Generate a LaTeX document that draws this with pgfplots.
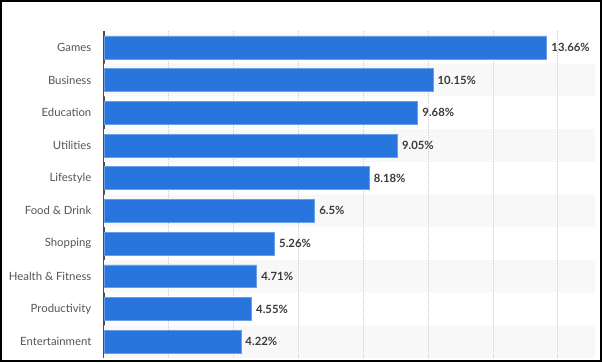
\documentclass[border=0pt]{standalone}
\usepackage{pgfplots}
\pgfplotsset{compat=1.18}
\usepackage{fontspec}
\setmainfont{Lato}
\definecolor{barblue}{HTML}{2876DD}
\definecolor{stripe}{HTML}{F8F8F8}
\definecolor{catgray}{HTML}{555555}
\definecolor{valgray}{HTML}{3A3A3A}
\begin{document}
\begin{tikzpicture}
\path[use as bounding box] (0,0) rectangle (451.5pt,271.5pt);
\fill[white] (0,0) rectangle (451.5pt,271.5pt);
\begin{axis}[
  at={(78pt,3pt)}, anchor=south west,
  scale only axis, width=368.25pt, height=245.25pt,
  xmin=0, xmax=15.15,
  ymin=-0.5, ymax=9.5, y dir=reverse,
  ytick={0,...,9},
  yticklabels={Games,Business,Education,Utilities,Lifestyle,Food \& Drink,Shopping,Health \& Fitness,Productivity,Entertainment},
  xtick=\empty,
  axis x line=none, axis y line*=left,
  y axis line style={-, line width=1pt, color=black!70},
  major tick length=0pt, ytick style={draw=none},
  yticklabel style={font=\fontsize{8.5}{10}\selectfont, text=catgray, xshift=-6pt},
  /pgf/number format/assume math mode=true,
  clip=false,
]
% row stripes
\addplot[xbar, bar width=1, fill=stripe, draw=none, forget plot] coordinates {
(15.15,1) (15.15,3) (15.15,5) (15.15,7) (15.15,9)
};
% vertical grid lines
\addplot[densely dotted, gray!40, line width=0.5pt, forget plot] coordinates {(2,-0.5) (2,9.5)};
\addplot[densely dotted, gray!40, line width=0.5pt, forget plot] coordinates {(4,-0.5) (4,9.5)};
\addplot[densely dotted, gray!40, line width=0.5pt, forget plot] coordinates {(6,-0.5) (6,9.5)};
\addplot[densely dotted, gray!40, line width=0.5pt, forget plot] coordinates {(8,-0.5) (8,9.5)};
\addplot[densely dotted, gray!40, line width=0.5pt, forget plot] coordinates {(10,-0.5) (10,9.5)};
\addplot[densely dotted, gray!40, line width=0.5pt, forget plot] coordinates {(12,-0.5) (12,9.5)};
\addplot[densely dotted, gray!40, line width=0.5pt, forget plot] coordinates {(14,-0.5) (14,9.5)};
% bars
\addplot[xbar, bar width=0.7, fill=barblue, draw=barblue!70!white, line width=0.4pt,
  point meta=x,
  nodes near coords={\pgfmathprintnumber[precision=2,assume math mode=true]{\pgfplotspointmeta}\%},
  nodes near coords align=horizontal,
  every node near coord/.append style={font=\fontsize{8.5}{10}\selectfont\bfseries, text=valgray}
] coordinates {
(13.66,0) (10.15,1) (9.68,2) (9.05,3) (8.18,4) (6.5,5) (5.26,6) (4.71,7) (4.55,8) (4.22,9)
};
\end{axis}
\draw[line width=1.2pt, black] (0.6pt,0.6pt) rectangle (450.9pt,270.9pt);
\end{tikzpicture}
\end{document}
